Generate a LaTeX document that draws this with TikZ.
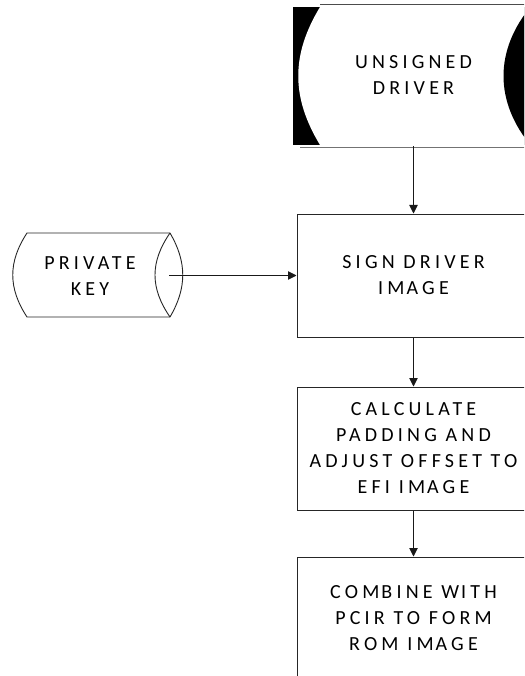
\documentclass[tikz,border=0pt]{standalone}
\usepackage{fontspec}
\newfontfamily\lblfont[LetterSpace=21]{Carlito}
\usetikzlibrary{arrows.meta}
\begin{document}
\begin{tikzpicture}[x=1pt,y=-1pt,
  lbl/.style={font=\lblfont\fontsize{20}{26}\selectfont, align=center, text=black, inner sep=0pt},
  procbox/.style={lbl, draw=black!85, line width=1pt, minimum width=233pt, minimum height=123pt, fill=white},
  conn/.style={draw=black!90, line width=0.9pt, -{Triangle[width=8.5pt,length=8.5pt]}},
  outline/.style={draw=black!85, line width=0.9pt}
]
\useasboundingbox (0,0) rectangle (524,676);
\clip (0,0) rectangle (524,676);

% top stored-data shape (unsigned driver)
\fill[black] (293,7) rectangle (540,145);
\fill[white] (320,7) -- (540,7) -- (540,145) -- (320,145) .. controls (291,97) and (291,55) .. (320,7) -- cycle;
\fill[black] (532,5) .. controls (494,50) and (494,102) .. (532,147) -- (540,147) -- (540,5) -- cycle;
\draw[black!70, line width=0.8pt] (320,4) -- (540,4);
\draw[black!55, line width=0.8pt] (300,147.5) -- (540,147.5);
\node[lbl, minimum width=233pt, minimum height=142pt] (drv) at (413.5,75) {UNSIGNED\\DRIVER};

% private key shape
\draw[outline] (170,233) -- (27,233) .. controls (8,262) and (8,288) .. (27,317) -- (170,317);
\draw[outline] (170,233) .. controls (187,262) and (187,288) .. (170,317);
\draw[outline] (170,233) .. controls (150,262) and (150,288) .. (170,317);
\node[lbl] (key) at (90,276) {PRIVATE\\KEY};
\coordinate (keyend) at (169,275.5);

% process boxes
\node[procbox] (sign) at (413.5,275.5) {SIGN DRIVER\\IM\kern2pt AGE};
\node[procbox] (calc) at (413.5,448.5) {CALCULATE\\PADDING AND\\ADJUST OFFSET TO\\EFI IM\kern2pt AGE};
\node[procbox] (rom) at (413.5,618.5) {COM\kern2pt BINE W\kern2pt ITH\\PCIR TO FORM\\ROM IM\kern2pt AGE};

% connectors
\draw[conn] (drv.south) -- (sign.north);
\draw[conn] (keyend) -- (sign.west);
\draw[conn] (sign.south) -- (calc.north);
\draw[conn] (calc.south) -- (rom.north);
\end{tikzpicture}
\end{document}
